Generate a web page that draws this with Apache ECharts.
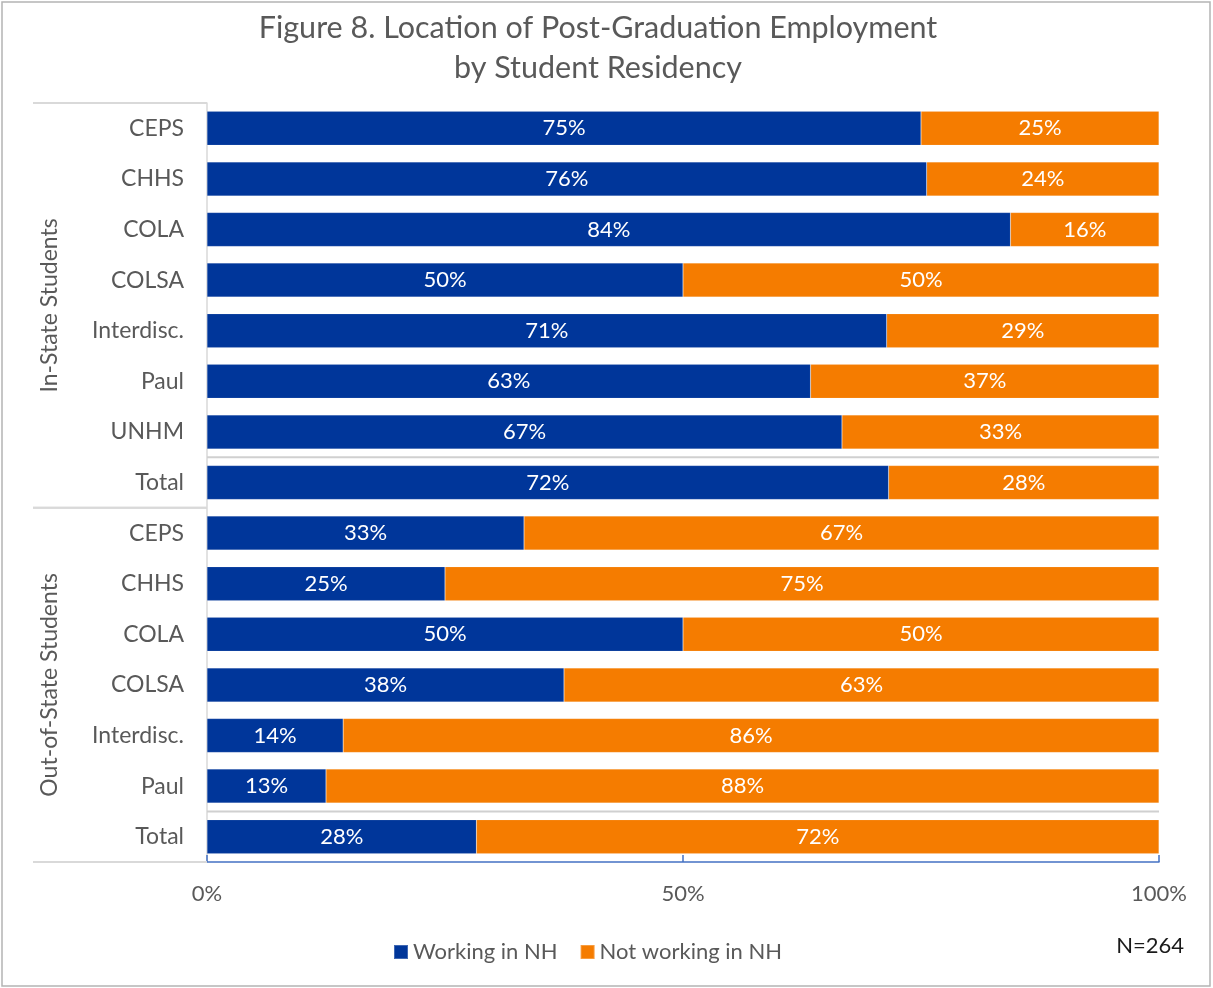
<!DOCTYPE html>
<html>
<head>
<meta charset="utf-8">
<script src="https://cdn.jsdelivr.net/npm/echarts@6/dist/echarts.min.js"></script>
<style>
html,body{margin:0;padding:0;background:#fff;}
#chart{width:1213px;height:988px;}
</style>
</head>
<body>
<div id="chart"></div>
<script>
// ---- data ----
const groupNames = ['In-State Students', 'Out-of-State Students'];
const inStateCats = ['CEPS', 'CHHS', 'COLA', 'COLSA', 'Interdisc.', 'Paul', 'UNHM', 'Total'];
const outStateCats = ['CEPS', 'CHHS', 'COLA', 'COLSA', 'Interdisc.', 'Paul', 'Total'];
const inWorking = [75, 75.6, 84.4, 50, 71.4, 63.4, 66.7, 71.6];
const inNotWorking = [25, 24.4, 15.6, 50, 28.6, 36.6, 33.3, 28.4];
const outWorking = [33.3, 25, 50, 37.5, 14.3, 12.5, 28.3];
const outNotWorking = [66.7, 75, 50, 62.5, 85.7, 87.5, 71.7];
const xTicks = [0, 50, 100];
const seriesNames = ['Working in NH', 'Not working in NH'];
const sampleNote = 'N=264';

// ---- build ----
const catIds = inStateCats.map((c, i) => 'in|' + i + '|' + c)
  .concat(outStateCats.map((c, i) => 'out|' + i + '|' + c));
const working = inWorking.concat(outWorking);
const notWorking = inNotWorking.concat(outNotWorking);
const groupSpans = [[0, inStateCats.length], [inStateCats.length, inStateCats.length + outStateCats.length]];
// rows that start a "Total" sub-section inside each group
const totalRows = [[0, inStateCats.length - 1], [0, inStateCats.length + outStateCats.length - 1]];

const FONT = 'Lato, "Source Sans Pro", "Noto Sans", sans-serif';
const GRAY = '#595959';
const chart = echarts.init(document.getElementById('chart'));

const labelOpt = {
  show: true, position: 'inside', color: '#fff', fontSize: 22, fontFamily: FONT,
  formatter: p => Math.round(p.value) + '%'
};

chart.setOption({
  animation: false,
  textStyle: { fontFamily: FONT },
  title: [{
    text: 'Figure 8. Location of Post-Graduation Employment\nby Student Residency',
    left: 593, top: 3, textAlign: 'center',
    textStyle: { fontSize: 30.5, fontWeight: 'normal', color: GRAY, lineHeight: 40, fontFamily: FONT }
  }, {
    text: sampleNote, right: 24, top: 930,
    textStyle: { fontSize: 22, fontWeight: 'normal', color: '#1a1a1a', fontFamily: FONT }
  }],
  legend: {
    data: seriesNames, left: 388, top: 936, icon: 'rect', itemWidth: 14, itemHeight: 14, itemGap: 22,
    textStyle: { fontSize: 22, color: GRAY, fontFamily: FONT }
  },
  graphic: [{
    type: 'rect', silent: true, z: -1,
    shape: { x: 2, y: 2, width: 1208, height: 984 },
    style: { fill: 'none', stroke: '#b4b4b4', lineWidth: 1.5 }
  }],
  grid: [
    { left: 207, right: 54, top: 103, bottom: 126 },
    { left: 33, width: 174, top: 103, bottom: 126 }
  ],
  xAxis: [{
    type: 'value', gridIndex: 0, min: xTicks[0], max: xTicks[xTicks.length - 1], interval: xTicks[1] - xTicks[0],
    axisLine: { show: true, lineStyle: { color: '#4472C4', width: 1.5 } },
    axisTick: { show: true, inside: true, length: 7, lineStyle: { color: '#4472C4', width: 1.5 } },
    splitLine: { show: false },
    axisLabel: { formatter: '{value}%', margin: 21, fontSize: 22, color: GRAY, fontFamily: FONT }
  }, {
    type: 'value', gridIndex: 1, min: 0, max: 1, show: false
  }],
  yAxis: [{
    type: 'category', gridIndex: 0, inverse: true, data: catIds,
    axisLine: { show: true, lineStyle: { color: '#d9d9d9', width: 1.5 } },
    axisTick: { show: false },
    axisLabel: { margin: 23, fontSize: 23, color: GRAY, fontFamily: FONT, formatter: v => v.split('|')[2] }
  }, {
    type: 'value', gridIndex: 1, inverse: true, min: 0, max: catIds.length, show: false
  }],
  series: [{
    name: seriesNames[0], type: 'bar', stack: 'all', barWidth: 34, data: working,
    itemStyle: { color: '#00369A', borderColor: 'rgba(255,255,255,0.25)', borderWidth: 0.5 },
    label: labelOpt
  }, {
    name: seriesNames[1], type: 'bar', stack: 'all', barWidth: 34, data: notWorking,
    itemStyle: { color: '#F57C00', borderColor: 'rgba(255,255,255,0.25)', borderWidth: 0.5 },
    label: labelOpt
  }, {
    type: 'custom', xAxisIndex: 0, yAxisIndex: 0, silent: true, z: 1,
    data: totalRows,
    encode: { x: 0, y: 1 },
    renderItem: (params, api) => {
      const a = api.coord([xTicks[0], api.value(1)]);
      const b = api.coord([xTicks[xTicks.length - 1], api.value(1)]);
      const h = api.size([0, 1])[1];
      const y = a[1] - h / 2;
      return { type: 'line', shape: { x1: a[0], y1: y, x2: b[0], y2: y },
        style: { stroke: '#d0d0d0', lineWidth: 2 } };
    }
  }, {
    type: 'custom', xAxisIndex: 1, yAxisIndex: 1, silent: true,
    data: groupSpans,
    encode: { x: -1, y: [0, 1] },
    renderItem: (params, api) => {
      const s = api.value(0), e = api.value(1);
      const p0 = api.coord([0, s]);
      const p1 = api.coord([1, s]);
      const q0 = api.coord([0, e]);
      const q1 = api.coord([1, e]);
      const children = [
        { type: 'line', shape: { x1: p0[0], y1: p0[1], x2: p1[0], y2: p1[1] }, style: { stroke: '#d9d9d9', lineWidth: 2 } },
        { type: 'line', shape: { x1: q0[0], y1: q0[1], x2: q1[0], y2: q1[1] }, style: { stroke: '#d9d9d9', lineWidth: 2 } },
        { type: 'text', x: p0[0] + 17, y: (p0[1] + q0[1]) / 2, rotation: Math.PI / 2,
          style: { text: groupNames[params.dataIndex], fill: GRAY, fontSize: 23, fontFamily: FONT,
            textAlign: 'center', textVerticalAlign: 'middle' } }
      ];
      return { type: 'group', children };
    }
  }]
});
</script>
</body>
</html>
